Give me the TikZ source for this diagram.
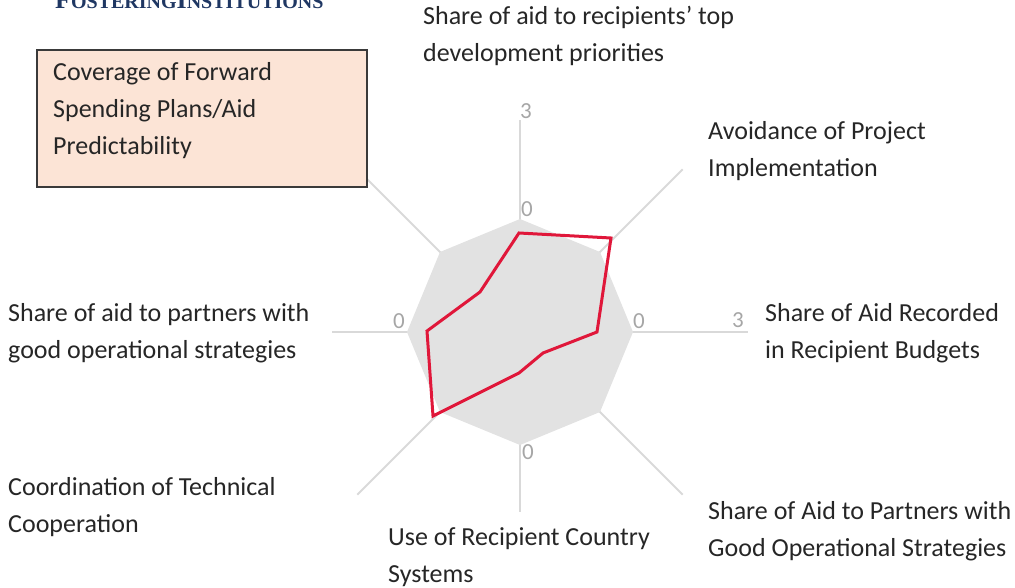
\documentclass[tikz,border=0pt]{standalone}
\usepackage{fontspec}
\setmainfont{Carlito}
\newfontfamily\titlefont{Liberation Serif}
\definecolor{axisgray}{HTML}{D9D9D9}
\definecolor{areagray}{HTML}{E2E2E2}
\definecolor{datared}{HTML}{E0173A}
\definecolor{numgray}{HTML}{A6A6A6}
\definecolor{boxfill}{HTML}{FCE4D6}
\definecolor{boxline}{HTML}{3A3A3A}
\definecolor{titleblue}{HTML}{1F3763}
\definecolor{labtext}{HTML}{262626}
\tikzset{
  axisline/.style={draw=axisgray, line width=2pt},
  lab/.style={anchor=base west, inner sep=0pt, align=left, text=labtext,
    font=\fontsize{26}{37}\selectfont},
  num/.style={inner sep=0pt, text=numgray, font=\fontsize{23}{23}\selectfont},
}
\begin{document}
\begin{tikzpicture}[x=1pt,y=-1pt]
\useasboundingbox (0,0) rectangle (1015,588);
\coordinate (c) at (520,332);
% axes
\draw[axisline] (c) -- ++(0:228);
\draw[axisline] (c) -- ++(45:230);
\draw[axisline] (c) -- ++(90:180);
\draw[axisline] (c) -- ++(135:230);
\draw[axisline] (c) -- ++(180:188);
\draw[axisline] (c) -- ++(225:230);
\draw[axisline] (c) -- ++(270:212);
\draw[axisline] (c) -- ++(315:230);
% grey area
\fill[areagray] (633,332) -- (600,252) -- (520,219) -- (440,252) -- (407,332)
  -- (440,412) -- (520,445) -- (600,412) -- cycle;
% data
\draw[datared, line width=3pt, line join=miter] (519,233) -- (611,238) -- (597,332) -- (543,353)
  -- (519,373) -- (433,416) -- (427,331) -- (480,292) -- cycle;
% axis numbers
\node[num] at (526,111) {3};
\node[num] at (738,320) {3};
\node[num] at (527,209) {0};
\node[num] at (639,321) {0};
\node[num] at (399,321) {0};
\node[num] at (528,452) {0};
% title (cut off at top)
\node[anchor=base west, inner sep=0pt, text=titleblue] (title) at (55,9)
  {\titlefont\bfseries\fontsize{26}{26}\selectfont F\fontsize{20}{20}\selectfont OSTERING\fontsize{26}{26}\selectfont I\fontsize{20}{20}\selectfont NSTITUTIONS};
% box
\draw[fill=boxfill, draw=boxline, line width=1.5pt] (37,50) rectangle (367,187);
\node[lab] (box) at (53,155) {Coverage of Forward\\Spending Plans/Aid\\Predictability};
% labels (base anchor = last line's baseline)
\node[lab] (l1) at (423,62) {Share of aid to recipients\symbol{39} top\\development priorities};
\node[lab] (l2) at (708,177) {Avoidance of Project\\Implementation};
\node[lab] (l3) at (765,358) {Share of Aid Recorded\\in Recipient Budgets};
\node[lab] (l4) at (708,556) {Share of Aid to Partners with\\Good Operational Strategies};
\node[lab] (l5) at (388,582) {Use of Recipient Country\\Systems};
\node[lab] (l6) at (8,532) {Coordination of Technical\\Cooperation};
\node[lab] (l7) at (8,358) {Share of aid to partners with\\good operational strategies};
\end{tikzpicture}
\end{document}
